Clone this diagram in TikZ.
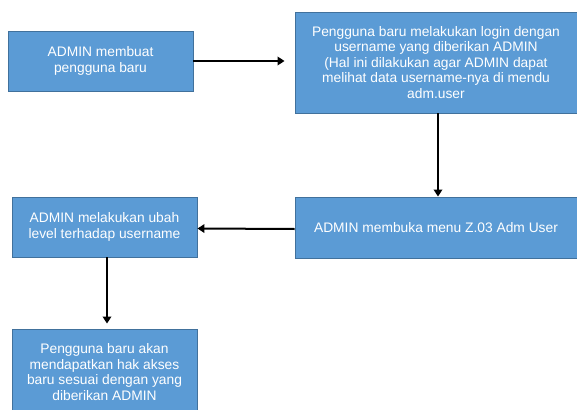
\documentclass[tikz,border=0pt]{standalone}
\usepackage{fontspec}
\setmainfont{Liberation Sans}
\usetikzlibrary{arrows.meta}
\definecolor{boxfill}{HTML}{5B9BD5}
\definecolor{boxline}{HTML}{41719C}
\tikzset{
  flowbox/.style={draw=boxline, line width=0.9pt, fill=boxfill, text=white,
    align=center, inner sep=2pt,
    font=\fontsize{13.8}{15.5}\selectfont},
  flowarrow/.style={draw=black, line width=2pt, -{Triangle[length=7pt,width=8.5pt]}}
}
\begin{document}
\begin{tikzpicture}[x=1pt,y=-1pt]
\useasboundingbox (0,0) rectangle (577,409);
\clip (0,0) rectangle (577,409);
\node[flowbox, minimum width=185pt, minimum height=60pt] (b1) at (100.5,61)
  {ADMIN membuat\\pengguna baru};
\node[flowbox, minimum width=282pt, minimum height=101pt] (b2) at (436,62.5)
  {Pengguna baru melakukan login dengan\\username yang diberikan ADMIN\\(Hal ini dilakukan agar ADMIN dapat\\melihat data username-nya di mendu\\adm.user};
\node[flowbox, minimum width=282pt, minimum height=61pt] (b3) at (436,227.5)
  {ADMIN membuka menu Z.03 Adm User};
\node[flowbox, minimum width=185pt, minimum height=60pt] (b4) at (104.5,227)
  {ADMIN melakukan ubah\\level terhadap username};
\node[flowbox, minimum width=185pt, minimum height=86pt] (b5) at (104.5,372)
  {Pengguna baru akan\\mendapatkan hak akses\\baru sesuai dengan yang\\diberikan ADMIN};
\draw[flowarrow, shorten >=10pt] (b1.east) -- (b2.west |- b1.east);
\draw[flowarrow] ([xshift=2pt]b2.south) -- ([xshift=2pt]b3.north);
\draw[flowarrow] ([yshift=-1.5pt]b3.west) -- ([yshift=-1.5pt]b4.east);
\draw[flowarrow, shorten >=5pt] ([xshift=2.5pt]b4.south) -- ([xshift=2.5pt]b5.north);
\end{tikzpicture}
\end{document}
